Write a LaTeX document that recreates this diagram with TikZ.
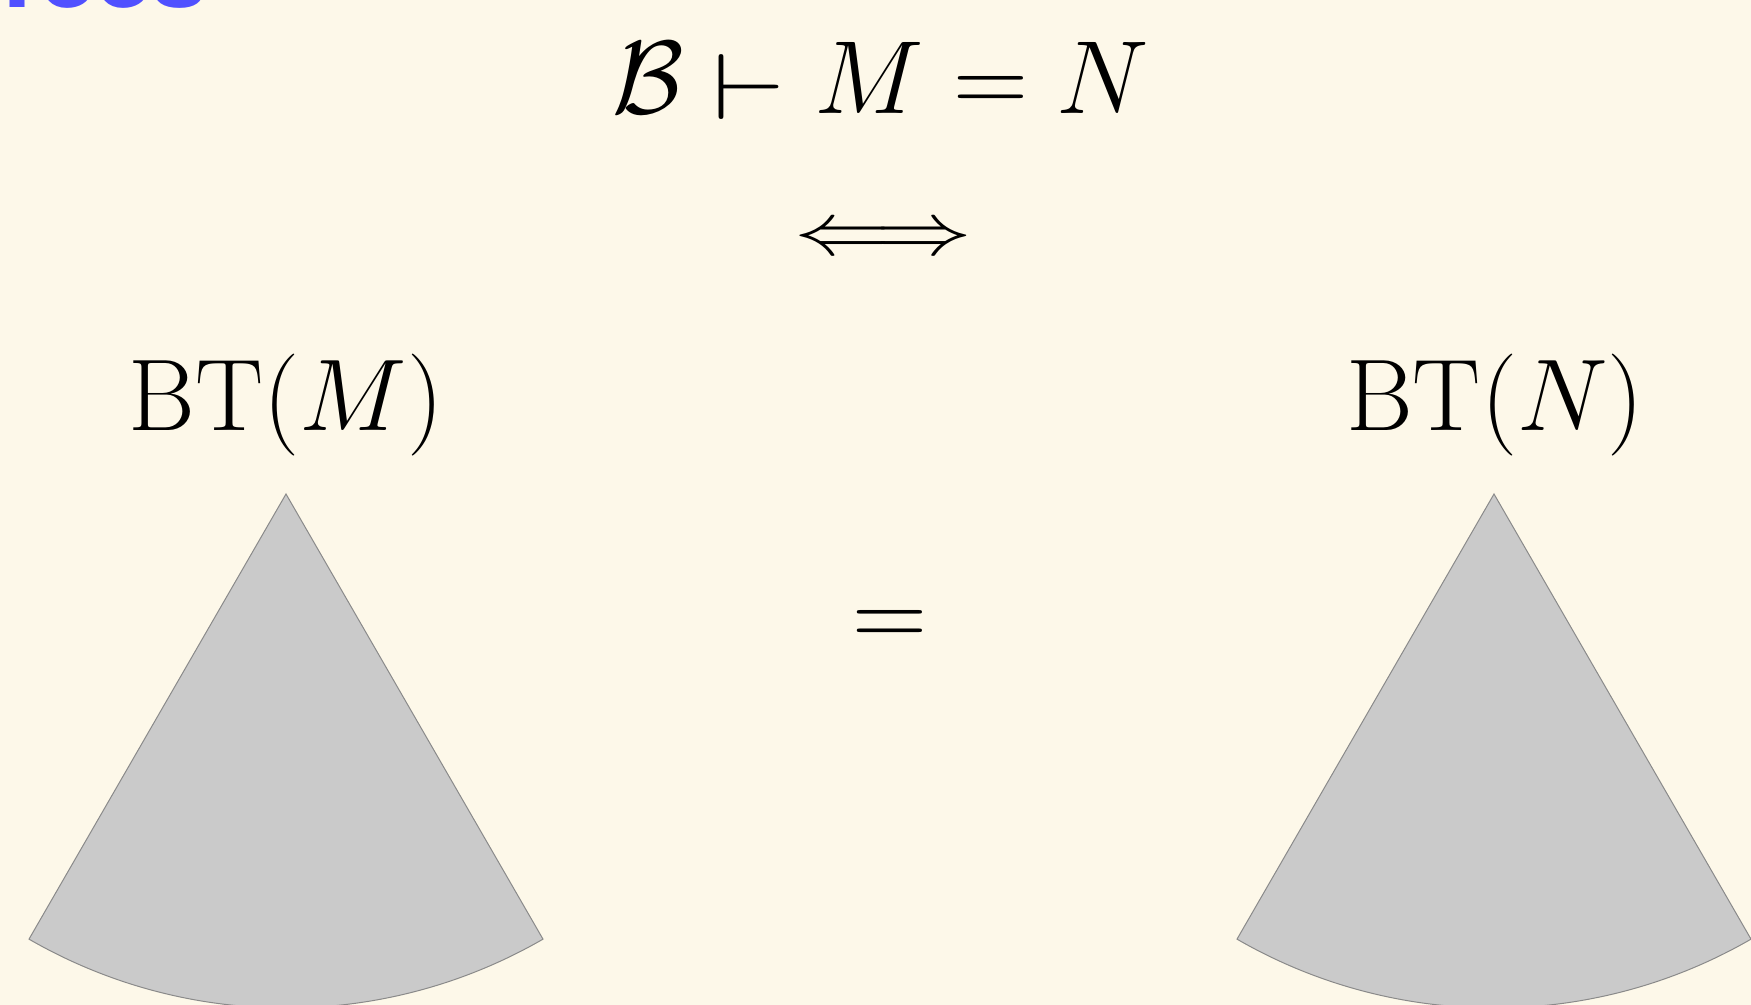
\RequirePackage{fix-cm}
\documentclass[tikz,border=0pt]{standalone}
\usepackage{fontspec}
\newfontfamily\titlefont{TeX Gyre Heros}
\definecolor{bgcream}{HTML}{FDF8E9}
\definecolor{sectorfill}{HTML}{CACACA}
\definecolor{sectoredge}{HTML}{8A8A8A}
\definecolor{titleblue}{HTML}{5050FF}
\newcommand{\myvdash}{\mathrel{\raisebox{-3pt}{\scalebox{1.15}[0.9]{$\vdash$}}}}
\tikzset{
  big/.style={font=\fontsize{52}{62}\selectfont, inner sep=0pt},
  label/.style={font=\fontsize{51}{61}\selectfont, inner sep=0pt},
  sectorshape/.style={fill=sectorfill, draw=sectoredge, line width=0.5pt},
  cuttitle/.style={font=\titlefont\bfseries\fontsize{50}{60}\selectfont, text=titleblue, inner sep=0pt}
}
\begin{document}
\begin{tikzpicture}[x=0.5pt,y=-0.5pt]
\useasboundingbox (0,0) rectangle (1751,1005);
\fill[bgcream] (0,0) rectangle (1751,1005);
% cut-off title at top left
\node[cuttitle, anchor=base west] (title) at (-14,8) {Tees};
% formula
\node[big, anchor=base] (formula) at (881,114) {$\mathcal{B}\myvdash M = N$};
\node[big, xscale=0.93, yscale=0.72] (iff) at (883,241) {$\Longleftrightarrow$};
\node[label, anchor=base] (btm) at (286,431) {BT$(M)$};
\node[label, anchor=base] (btn) at (1495,431) {BT$(N)$};
\node[big] (eq) at (890,629) {$=$};
% sectors
\coordinate (apexM) at (286,494);
\coordinate (apexN) at (1494,494);
\draw[sectorshape] (apexM) -- ++(120:514) arc[start angle=120, end angle=60, radius=514] -- cycle;
\draw[sectorshape] (apexN) -- ++(120:514) arc[start angle=120, end angle=60, radius=514] -- cycle;
\end{tikzpicture}
\end{document}
